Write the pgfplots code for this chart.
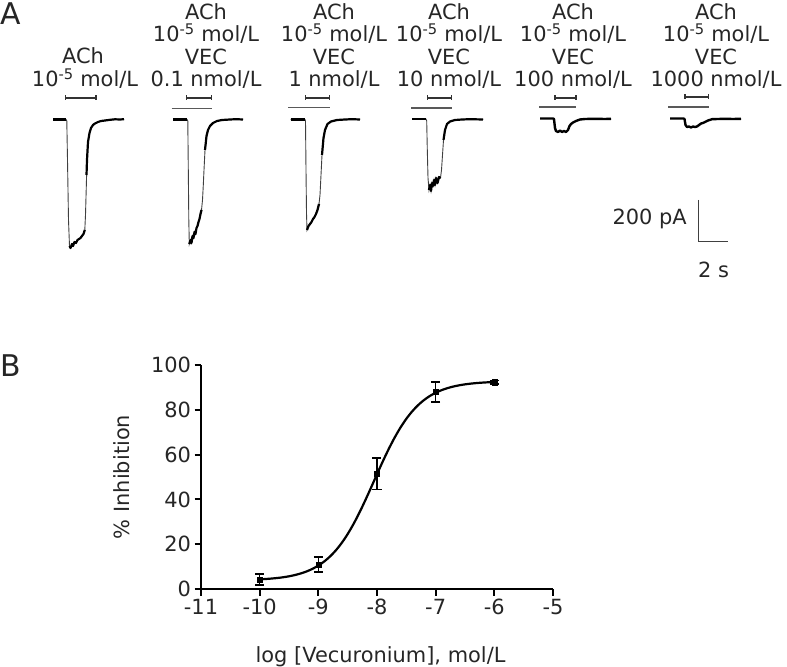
\documentclass[border=0pt]{standalone}
\usepackage{pgfplots}
\pgfplotsset{compat=1.18}
\usepackage{fontspec}
\setmainfont{DejaVu Sans}
\newcommand{\lf}{\fontsize{21}{25}\selectfont}
\begin{document}
\begin{tikzpicture}[lab/.style={font=\lf, text=black!85, anchor=base, inner sep=0pt}]
\useasboundingbox (0,0) rectangle (787bp,667bp);
% ---------------- Panel A ----------------
\begin{axis}[
  at={(0,0)}, anchor=south west,
  scale only axis, width=787bp, height=667bp,
  xmin=0, xmax=787, ymin=0, ymax=667, y dir=reverse,
  hide axis, clip=false]
% traces (thin full)
\addplot[black!75, line width=0.9bp] coordinates {(53,119.5)(66,119.5)(66.8,121)(67.5,160)(68.5,220)(69.5,246)(70.5,248)(72,244)(73,246)(74.5,242)(76,243)(77.5,240)(79,239)(80.5,238)(82,236)(83.5,234)(84.8,230)(85.5,215)(86.2,190)(87,160)(88,142)(89.5,133)(91,128)(93,125)(95,123.5)(98,122)(101,121)(105,120.5)(110,119.8)(115,119.3)(120,119.5)(124,119.2)};
\addplot[black!75, line width=0.9bp] coordinates {(173,119.5)(187,119.5)(187.8,121)(188.3,170)(188.8,220)(189.3,244)(190.5,240)(191.5,243)(192.5,236)(193.5,238)(194.5,232)(195.5,234)(196.5,228)(197.5,226)(198.5,222)(199.5,219)(200.5,214)(201.5,210)(202.5,200)(203.3,185)(204,170)(205,150)(206.5,136)(208,130)(210,126)(213,123)(217,121)(222,120)(230,119.5)(236,119.2)(243,119.5)};
\addplot[black!75, line width=0.9bp] coordinates {(290.5,119.7)(305,119.7)(305.5,121)(306,170)(306.5,213)(307,230)(308.5,226)(310,224)(311.5,222)(313,219)(314.5,217)(316,214)(317.5,210)(319,204)(320,195)(321,175)(322,155)(323.5,138)(325,130)(327.5,124)(331,121.5)(337,120)(345,119.5)(352,119.2)(360,119.5)};
\addplot[black!75, line width=0.9bp] coordinates {(412,119)(426,119)(426.7,121)(427.3,150)(428,178)(429,190)(430,185)(431,191)(432,183)(433,186)(434,180)(435,185)(436,178)(437.5,183)(439,177)(440.5,178)(441.5,170)(442.5,155)(443.5,140)(445,130)(447,124)(450,121.5)(455,120)(462,119.5)(470,119.2)(483,119.5)};
% thick overlays
\addplot[black, line width=2.4bp] coordinates {(53,119.5)(66,119.5)};
\addplot[black, line width=2.2bp, line join=round] coordinates {(69.5,246)(70.5,248)(72,244)(73,246)(74.5,242)(76,243)(77.5,240)(79,239)(80.5,238)(82,236)(83.5,234)(84.8,230)};
\addplot[black, line width=2.2bp, line join=round] coordinates {(86.5,175)(87,160)(88,142)(89.5,133)(91,128)(93,125)(95,123.5)(98,122)(101,121)(105,120.5)(110,119.8)(115,119.3)(120,119.5)(124,119.2)};
\addplot[black, line width=2.4bp] coordinates {(173,119.5)(187,119.5)};
\addplot[black, line width=2.2bp, line join=round] coordinates {(189.3,244)(190.5,240)(191.5,243)(192.5,236)(193.5,238)(194.5,232)(195.5,234)(196.5,228)(197.5,226)(198.5,222)(199.5,219)(200.5,214)(201.5,210)};
\addplot[black, line width=2.2bp, line join=round] coordinates {(205,150)(206.5,136)(208,130)(210,126)(213,123)(217,121)(222,120)(230,119.5)(236,119.2)(243,119.5)};
\addplot[black, line width=2.4bp] coordinates {(290.5,119.7)(305,119.7)};
\addplot[black, line width=2.2bp, line join=round] coordinates {(307,230)(308.5,226)(310,224)(311.5,222)(313,219)(314.5,217)(316,214)(317.5,210)(319,204)};
\addplot[black, line width=2.2bp, line join=round] coordinates {(322,155)(323.5,138)(325,130)(327.5,124)(331,121.5)(337,120)(345,119.5)(352,119.2)(360,119.5)};
\addplot[black, line width=2.4bp] coordinates {(412,119)(426,119)};
\addplot[black, line width=2.2bp, line join=round] coordinates {(429,190)(430,185)(431,191)(432,183)(433,186)(434,180)(435,185)(436,178)(437.5,183)(439,177)(440.5,178)};
\addplot[black, line width=2.2bp, line join=round] coordinates {(443.5,140)(445,130)(447,124)(450,121.5)(455,120)(462,119.5)(470,119.2)(483,119.5)};
\addplot[black, line width=2.4bp, line join=round] coordinates {(540,118.5)(553,118.5)(554,119)(555,128)(556,131)(558,132)(560,130.5)(562,132)(564,131)(566,132)(568,130)(569.5,126)(571,124)(573,122.5)(576,121)(580,119.5)(585,119)(595,118.8)(605,119)(611,118.8)};
\addplot[black, line width=2.4bp, line join=round] coordinates {(670,118.5)(683.5,118.5)(684.5,119)(685.5,125)(687,127)(689,126.5)(691,127.5)(693,126.5)(695,127)(697,126.5)(699,125)(701,123.5)(703,123)(705,122)(708,120.5)(712,119.2)(718,119)(725,118.8)(733,119)(741,118.8)};
% ACh bars
\addplot[black!80, line width=1.4bp, mark=|, mark size=2.5bp] coordinates {(65.5,98)(96,98)};
\addplot[black!80, line width=1.4bp, mark=|, mark size=2.5bp] coordinates {(186.7,98)(211.7,98)};
\addplot[black!80, line width=1.4bp, mark=|, mark size=2.5bp] coordinates {(305.3,98)(329.3,98)};
\addplot[black!80, line width=1.4bp, mark=|, mark size=2.5bp] coordinates {(427.7,98)(451.7,98)};
\addplot[black!80, line width=1.4bp, mark=|, mark size=2.5bp] coordinates {(555,98)(576,98)};
\addplot[black!80, line width=1.4bp, mark=|, mark size=2.5bp] coordinates {(685,97)(708.3,97)};
% VEC bars
\addplot[black!65, line width=1.6bp] coordinates {(171.7,108.5)(212.3,108.5)};
\addplot[black!65, line width=1.6bp] coordinates {(288,107.5)(330.3,107.5)};
\addplot[black!65, line width=1.6bp] coordinates {(411,108)(451.7,108)};
\addplot[black!65, line width=1.6bp] coordinates {(539.3,107.3)(576,107.3)};
\addplot[black!65, line width=1.6bp] coordinates {(668.3,106.8)(709.3,106.8)};
% scale bar
\addplot[black!75, line width=1.2bp] coordinates {(698.3,200)(698.3,241.7)(728.3,241.7)};
% labels
\node[lab, font=\fontsize{30}{32}\selectfont, anchor=base west] at (axis cs:0,24.5) {A};
\node[lab, font=\fontsize{30}{32}\selectfont, anchor=base west] at (axis cs:0,376) {B};
\node[lab] at (axis cs:83,63.5) {ACh};
\node[lab] at (axis cs:85,87) {10\textsuperscript{-5} mol/L};
\node[lab] at (axis cs:206,19.5) {ACh};
\node[lab] at (axis cs:206,42) {10\textsuperscript{-5} mol/L};
\node[lab] at (axis cs:206,64.5) {VEC};
\node[lab] at (axis cs:206,87) {0.1 nmol/L};
\node[lab] at (axis cs:334,19.5) {ACh};
\node[lab] at (axis cs:334,42) {10\textsuperscript{-5} mol/L};
\node[lab] at (axis cs:334,64.5) {VEC};
\node[lab] at (axis cs:334,87) {1 nmol/L};
\node[lab] at (axis cs:449,19.5) {ACh};
\node[lab] at (axis cs:449,42) {10\textsuperscript{-5} mol/L};
\node[lab] at (axis cs:449,64.5) {VEC};
\node[lab] at (axis cs:449,87) {10 nmol/L};
\node[lab] at (axis cs:573,19.5) {ACh};
\node[lab] at (axis cs:573,42) {10\textsuperscript{-5} mol/L};
\node[lab] at (axis cs:573,64.5) {VEC};
\node[lab] at (axis cs:573,87) {100 nmol/L};
\node[lab] at (axis cs:716,19.5) {ACh};
\node[lab] at (axis cs:716,42) {10\textsuperscript{-5} mol/L};
\node[lab] at (axis cs:716,64.5) {VEC};
\node[lab] at (axis cs:716,87) {1000 nmol/L};
\node[lab, anchor=base east] at (axis cs:687,225) {200 pA};
\node[lab, anchor=base west] at (axis cs:698,278) {2 s};
\end{axis}
% ---------------- Panel B ----------------
\begin{axis}[
  at={(201bp,78bp)}, anchor=south west,
  scale only axis, width=352bp, height=224bp,
  xmin=-11, xmax=-5, ymin=0, ymax=100,
  axis x line*=bottom, axis y line*=left,
  xtick={-11,-10,-9,-8,-7,-6,-5}, ytick={0,20,40,60,80,100},
  tick align=outside, major tick length=6.5bp,
  axis line style={line width=2bp, black},
  major tick style={line width=2bp, black},
  /pgf/number format/assume math mode=true,
  tick label style={font=\lf, text=black!85},
  xlabel={log [Vecuronium], mol/L},
  ylabel={\% Inhibition},
  every axis x label/.style={at={(axis description cs:0.51,-0.33)}, anchor=base, font=\lf, text=black!85},
  every axis y label/.style={at={(axis description cs:-0.225,0.5)}, rotate=90, anchor=center, font=\lf, text=black!85},
  clip=false]
\addplot[black, line width=2.2bp, smooth] coordinates {(-10,4.31)(-9.9,4.46)(-9.8,4.66)(-9.7,4.91)(-9.6,5.24)(-9.5,5.67)(-9.4,6.23)(-9.3,6.94)(-9.2,7.84)(-9.1,9.00)(-9.0,10.46)(-8.9,12.28)(-8.8,14.54)(-8.7,17.30)(-8.6,20.62)(-8.5,24.53)(-8.4,29.03)(-8.3,34.08)(-8.2,39.57)(-8.1,45.35)(-8.0,51.24)(-7.9,57.03)(-7.8,62.51)(-7.7,67.56)(-7.6,72.07)(-7.5,75.98)(-7.4,79.30)(-7.3,82.06)(-7.2,84.32)(-7.1,86.15)(-7.0,87.60)(-6.9,88.76)(-6.8,89.67)(-6.7,90.38)(-6.6,90.93)(-6.5,91.36)(-6.4,91.69)(-6.3,91.94)(-6.2,92.14)(-6.1,92.29)(-6.0,92.41)};
\addplot[black, only marks, mark=square*, mark size=2.6bp,
  error bars/.cd, y dir=both, y explicit,
  error bar style={line width=1.5bp, black},
  error mark options={rotate=90, line width=1.5bp, mark size=4.5bp, black}]
  coordinates {(-10,4.3) +- (0,2.5) (-9,11.0) +- (0,3.3) (-8,51.5) +- (0,7) (-7,88) +- (0,4.5) (-6,92.3) +- (0,0.8)};
\end{axis}
\end{tikzpicture}
\end{document}
